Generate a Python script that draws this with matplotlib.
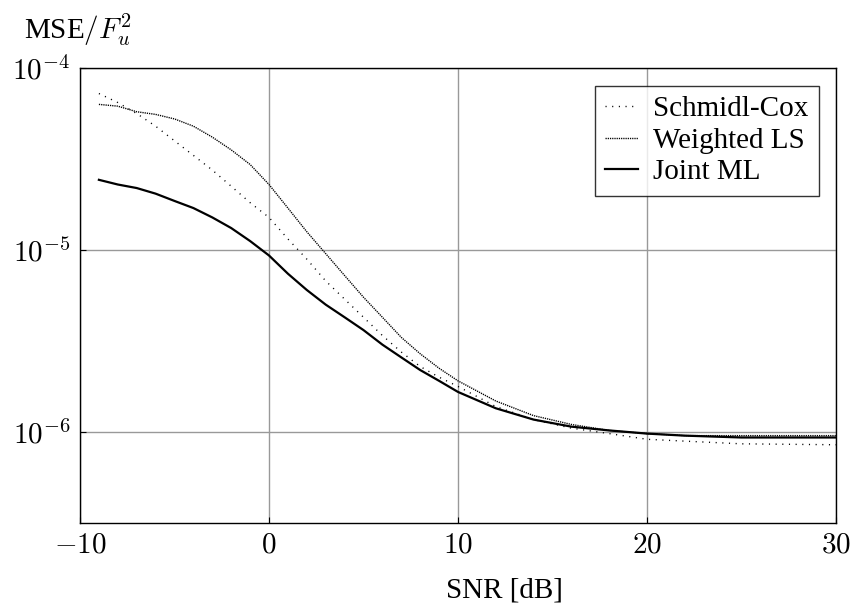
import numpy as np
import matplotlib
matplotlib.use("Agg")
import matplotlib.pyplot as plt

plt.rcParams['font.family'] = ['Liberation Serif', 'DejaVu Serif']
plt.rcParams['mathtext.fontset'] = 'cm'

snr = [-9, -8, -7, -6, -5, -4, -3, -2, -1, 0, 1, 2, 3, 4, 5, 6, 7, 8, 9, 10,
       12, 14, 16, 18, 20, 22, 25, 30]

schmidl_cox = [7.24e-5, 6.46e-5, 5.62e-5, 4.79e-5, 3.98e-5, 3.31e-5, 2.75e-5,
               2.24e-5, 1.82e-5, 1.51e-5, 1.15e-5, 8.91e-6, 6.76e-6, 5.37e-6,
               4.27e-6, 3.39e-6, 2.75e-6, 2.29e-6, 2.00e-6, 1.78e-6, 1.38e-6,
               1.17e-6, 1.05e-6, 9.8e-7, 9.12e-7, 8.91e-7, 8.61e-7, 8.51e-7]

weighted_ls = [6.31e-5, 6.17e-5, 5.75e-5, 5.56e-5, 5.25e-5, 4.79e-5, 4.17e-5,
               3.55e-5, 2.95e-5, 2.29e-5, 1.70e-5, 1.26e-5, 9.55e-6, 7.24e-6,
               5.50e-6, 4.27e-6, 3.31e-6, 2.69e-6, 2.24e-6, 1.91e-6, 1.48e-6,
               1.23e-6, 1.10e-6, 1.02e-6, 9.8e-7, 9.55e-7, 9.55e-7, 9.55e-7]

joint_ml = [2.43e-5, 2.29e-5, 2.19e-5, 2.04e-5, 1.86e-5, 1.70e-5, 1.51e-5,
            1.32e-5, 1.12e-5, 9.33e-6, 7.41e-6, 6.03e-6, 5.01e-6, 4.27e-6,
            3.63e-6, 3.02e-6, 2.57e-6, 2.19e-6, 1.91e-6, 1.66e-6, 1.35e-6,
            1.17e-6, 1.07e-6, 1.02e-6, 9.8e-7, 9.55e-7, 9.33e-7, 9.33e-7]

fig = plt.figure(figsize=(8.54, 6.14), dpi=100)
ax = fig.add_axes([80 / 854, 1 - 523 / 614, 756 / 854, 455 / 614])

ax.plot(snr, schmidl_cox, color='black', lw=1.0, linestyle=(0, (0.8, 4)),
        label='Schmidl-Cox')
ax.plot(snr, weighted_ls, color='black', lw=1.0, linestyle=(0, (0.9, 0.7)),
        label='Weighted LS')
ax.plot(snr, joint_ml, color='black', lw=1.6, label='Joint ML')

ax.set_yscale('log')
ax.set_xlim(-10, 30)
ax.set_ylim(10 ** -6.5, 1e-4)
ax.set_xticks([-10, 0, 10, 20, 30])
ax.set_xticklabels([r'$-10$', r'$0$', r'$10$', r'$20$', r'$30$'])
ax.set_yticks([1e-6, 1e-5, 1e-4])
ax.set_yticklabels([r'$10^{-6}$', r'$10^{-5}$', r'$10^{-4}$'])
ax.minorticks_off()
ax.tick_params(direction='in', length=4, labelsize=21, pad=7)
ax.grid(True, color='#999999', lw=1.0)
for s in ax.spines.values():
    s.set_linewidth(1.0)

leg = ax.legend(loc='upper right', fontsize=21, frameon=True, fancybox=False,
                edgecolor='black', handlelength=1.15, borderaxespad=0.6,
                labelspacing=0.18, borderpad=0.35, handletextpad=0.5)
leg.get_frame().set_linewidth(1.0)

fig.text(504 / 854, 1 - 590 / 614, 'SNR [dB]', ha='center', va='center', fontsize=21)
fig.text(24 / 854, 1 - 30 / 614, r'MSE$/F_u^2$', ha='left', va='center', fontsize=21)

fig.savefig('out.png', dpi=100)
